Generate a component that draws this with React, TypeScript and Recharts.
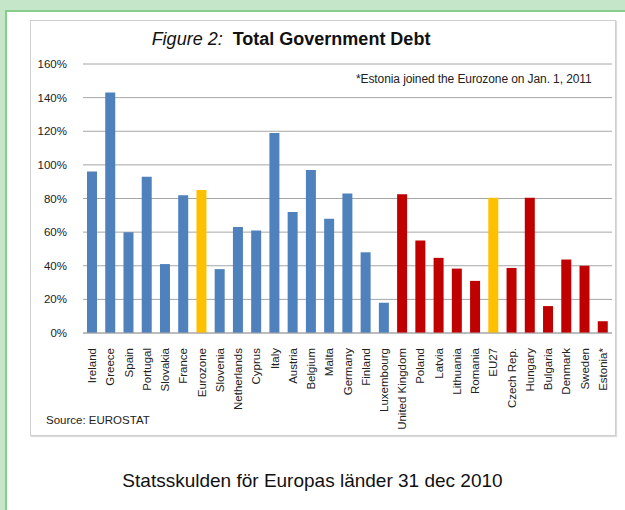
import { BarChart, Bar, XAxis, YAxis, CartesianGrid, Cell } from 'recharts'

const countries = [
  'Ireland', 'Greece', 'Spain', 'Portugal', 'Slovakia', 'France', 'Eurozone', 'Slovenia',
  'Netherlands', 'Cyprus', 'Italy', 'Austria', 'Belgium', 'Malta', 'Germany', 'Finland',
  'Luxembourg', 'United Kingdom', 'Poland', 'Latvia', 'Lithuania', 'Romania', 'EU27',
  'Czech Rep.', 'Hungary', 'Bulgaria', 'Denmark', 'Sweden', 'Estonia*',
]
const debtPct = [
  96, 143, 60, 93, 41, 82, 85, 38,
  63, 61, 119, 72, 97, 68, 83, 48,
  18, 82.5, 55, 44.7, 38.3, 31, 80.5,
  38.7, 80.5, 16, 43.7, 40, 7,
]
// e = eurozone member, n = non-member, a = aggregate
const groups = [
  'e', 'e', 'e', 'e', 'e', 'e', 'a', 'e',
  'e', 'e', 'e', 'e', 'e', 'e', 'e', 'e',
  'e', 'n', 'n', 'n', 'n', 'n', 'a',
  'n', 'n', 'n', 'n', 'n', 'n',
]
const yTicks = [0, 20, 40, 60, 80, 100, 120, 140, 160]

const groupColor: Record<string, string> = { e: '#4f81bd', n: '#c00000', a: '#ffc000' }

const data = countries.map((name, i) => ({ name, value: debtPct[i], group: groups[i] }))

const font = '"Liberation Sans", Arial, sans-serif'
const green = '#c6e6c9'

function CountryTick(props: any) {
  const { x, y, payload } = props
  return (
    <text
      x={x}
      y={y + 7}
      transform={`rotate(-90 ${x} ${y + 7})`}
      textAnchor="end"
      dominantBaseline="central"
      fontSize={11.5}
      fontFamily={font}
      fill="#222"
    >
      {payload.value}
    </text>
  )
}

export default function App() {
  return (
    <div style={{ position: 'fixed', left: 0, top: 0, width: 625, height: 510, background: '#fff', overflow: 'hidden', fontFamily: font }}>
      <div style={{ position: 'absolute', left: 0, top: 0, width: 625, height: 10, background: green }} />
      <div style={{ position: 'absolute', left: 0, top: 0, width: 5, height: 510, background: green }} />
      <div style={{ position: 'absolute', left: 5, top: 10, width: 620, height: 2, background: '#86cc8a' }} />
      <div style={{ position: 'absolute', left: 5, top: 10, width: 2, height: 500, background: '#86cc8a' }} />
      <div style={{ position: 'absolute', left: 30, top: 20, width: 584, height: 414, background: '#fff', border: '1px solid #cfcfcf', boxShadow: '1px 1px 1px #ddd' }}>
        <div style={{ position: 'absolute', left: 0, width: 520, top: 8, textAlign: 'center', fontSize: 18, color: '#111' }}>
          <span style={{ fontStyle: 'italic' }}>Figure 2:</span>{'\u00a0\u00a0'}
          <span style={{ fontWeight: 'bold' }}>Total Government Debt</span>
        </div>
        <div style={{ position: 'absolute', left: 325, top: 51, fontSize: 12, color: '#222', letterSpacing: -0.1 }}>
          *Estonia joined the Eurozone on Jan. 1, 2011
        </div>
        <div style={{ position: 'absolute', left: 15, top: 393, fontSize: 11.5, color: '#222' }}>Source: EUROSTAT</div>
        <BarChart width={584} height={414} data={data} margin={{ top: 43, right: 3, left: 0, bottom: 0 }} barSize={10}>
          <CartesianGrid vertical={false} stroke="#a6a6a6" />
          <XAxis
            dataKey="name"
            interval={0}
            height={102}
            tick={<CountryTick />}
            tickLine={false}
            axisLine={{ stroke: '#a6a6a6' }}
          />
          <YAxis
            domain={[0, 160]}
            ticks={yTicks}
            tickFormatter={(v: number) => `${v}%`}
            width={52}
            axisLine={false}
            tickLine={false}
            tick={{ fontSize: 11.5, fill: '#222', fontFamily: font }}
            tickMargin={10}
          />
          <Bar dataKey="value" isAnimationActive={false}>
            {data.map((d) => (
              <Cell key={d.name} fill={groupColor[d.group]} />
            ))}
          </Bar>
        </BarChart>
      </div>
      <div style={{ position: 'absolute', left: 0, width: 625, top: 470, textAlign: 'center', fontSize: 19, color: '#111' }}>
        Statsskulden för Europas länder 31 dec 2010
      </div>
    </div>
  )
}
